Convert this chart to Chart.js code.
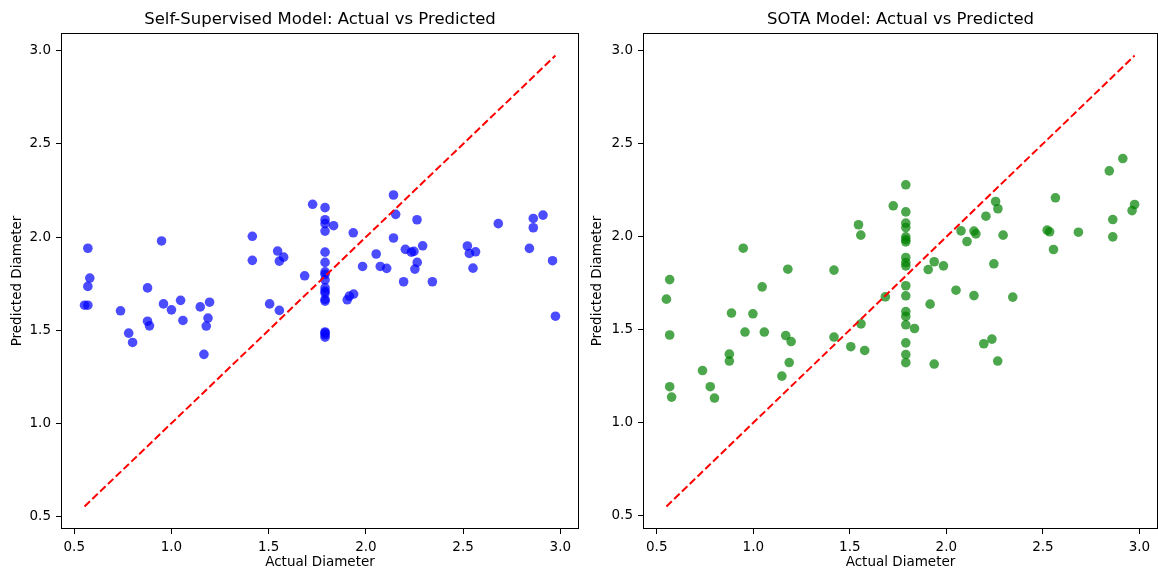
<!DOCTYPE html>
<html>
<head>
<meta charset="utf-8">
<script src="https://cdn.jsdelivr.net/npm/chart.js@4"></script>
<style>
  body { margin: 0; background: #fff; }
  .panel { position: absolute; top: 0; height: 571px; }
</style>
</head>
<body>
<div class="panel" style="left:0;width:579px"><canvas id="ssChart"></canvas></div>
<div class="panel" style="left:580px;width:578px"><canvas id="sotaChart"></canvas></div>
<script>
// data
var tickValues = [0.5, 1.0, 1.5, 2.0, 2.5, 3.0];

var ssActual = [0.553, 0.57, 0.57, 0.58, 0.57, 0.738, 0.78, 0.80, 0.877, 0.877,
  0.887, 0.949, 0.959, 1.0, 1.047, 1.059, 1.148, 1.167, 1.179, 1.188,
  1.196, 1.416, 1.416, 1.505, 1.546, 1.555, 1.555, 1.577, 1.685, 1.726,
  1.79, 1.79, 1.79, 1.79, 1.79, 1.79, 1.79, 1.79, 1.79,
  1.79, 1.79, 1.79, 1.79, 1.79, 1.79, 1.79, 1.79, 1.79,
  1.834, 1.904, 1.915, 1.935, 1.937, 1.983, 2.053, 2.074, 2.107, 2.142,
  2.142, 2.153, 2.194, 2.203, 2.234, 2.247, 2.252, 2.263, 2.264, 2.292,
  2.342, 2.522, 2.532, 2.551, 2.564, 2.681, 2.841, 2.861, 2.861, 2.911,
  2.96, 2.975];
var ssPred = [1.634, 1.634, 1.735, 1.78, 1.94, 1.604, 1.484, 1.434, 1.727, 1.548,
  1.523, 1.979, 1.641, 1.609, 1.66, 1.552, 1.625, 1.37, 1.522, 1.565,
  1.65, 2.004, 1.875, 1.641, 1.925, 1.871, 1.606, 1.892, 1.792, 2.176,
  2.158, 2.093, 2.072, 2.032, 1.919, 1.864, 1.813, 1.80, 1.77,
  1.727, 1.71, 1.699, 1.665, 1.656, 1.49, 1.485, 1.475, 1.462,
  2.061, 1.663, 1.683, 2.023, 1.694, 1.842, 1.909, 1.842, 1.832, 2.226,
  1.995, 2.122, 1.76, 1.934, 1.919, 1.923, 1.828, 2.093, 1.864, 1.953,
  1.76, 1.952, 1.912, 1.833, 1.921, 2.072, 1.939, 2.1, 2.05, 2.118,
  1.873, 1.575];

var sotaActual = [0.55, 0.567, 0.567, 0.567, 0.577, 0.737, 0.777, 0.799, 0.876, 0.876,
  0.887, 0.948, 0.957, 0.998, 1.046, 1.057, 1.148, 1.168, 1.179, 1.186,
  1.196, 1.418, 1.418, 1.505, 1.545, 1.557, 1.558, 1.577, 1.684, 1.725,
  1.79, 1.79, 1.79, 1.79, 1.79, 1.79, 1.79, 1.79, 1.79,
  1.79, 1.79, 1.79, 1.79, 1.79, 1.79, 1.79, 1.79, 1.79,
  1.835, 1.906, 1.916, 1.937, 1.937, 1.985, 2.05, 2.076, 2.107, 2.143,
  2.143, 2.153, 2.194, 2.205, 2.236, 2.246, 2.255, 2.266, 2.267, 2.294,
  2.344, 2.522, 2.535, 2.555, 2.565, 2.684, 2.844, 2.862, 2.862, 2.914,
  2.962, 2.975];
var sotaPred = [1.665, 1.77, 1.472, 1.194, 1.138, 1.281, 1.194, 1.133, 1.369, 1.332,
  1.59, 1.939, 1.488, 1.586, 1.731, 1.488, 1.251, 1.469, 1.826, 1.324,
  1.437, 1.821, 1.461, 1.409, 2.065, 2.009, 1.532, 1.389, 1.677, 2.167,
  2.28, 2.134, 2.074, 2.05, 2.0, 1.985, 1.973, 1.889, 1.862,
  1.844, 1.737, 1.683, 1.598, 1.572, 1.527, 1.43, 1.367, 1.323,
  1.507, 1.824, 1.638, 1.866, 1.316, 1.844, 1.713, 2.032, 1.975, 2.031,
  1.684, 2.016, 1.425, 2.111, 1.45, 1.855, 2.19, 1.332, 2.151, 2.009,
  1.676, 2.036, 2.027, 1.932, 2.21, 2.025, 2.355, 2.093, 2.0, 2.421,
  2.141, 2.174];

Chart.defaults.font.family = "'DejaVu Sans', sans-serif";
Chart.defaults.color = '#000';

// full box around the plot area like matplotlib spines
var framePlugin = {
  id: 'frame',
  afterDraw: function(chart) {
    var a = chart.chartArea, c = chart.ctx;
    c.save();
    c.strokeStyle = '#000';
    c.lineWidth = 1;
    c.strokeRect(a.left + 0.5, a.top + 0.5, a.right - a.left - 1, a.bottom - a.top - 1);
    c.restore();
  }
};

function makeChart(id, title, actual, pred, color, yAxisWidth) {
  var lo = Math.min.apply(null, actual);
  var hi = Math.max.apply(null, actual);
  var pad = (hi - lo) * 0.05;
  var pts = actual.map(function(v, i) { return {x: v, y: pred[i]}; });

  function axis(label, fit) {
    return {
      type: 'linear',
      min: lo - pad,
      max: hi + pad,
      afterBuildTicks: function(s) { s.ticks = tickValues.map(function(v) { return {value: v}; }); },
      afterFit: fit,
      grid: { display: true, drawOnChartArea: false, drawTicks: true, tickLength: 5, tickColor: '#000' },
      border: { display: false },
      ticks: {
        padding: 5,
        font: { size: 13.5 },
        callback: function(v) { return v.toFixed(1); }
      },
      title: { display: true, text: label, font: { size: 13.5 }, padding: { top: 9, bottom: 0 } }
    };
  }

  return new Chart(document.getElementById(id), {
    type: 'scatter',
    data: {
      datasets: [{
        type: 'line',
        data: [{x: lo, y: lo}, {x: hi, y: hi}],
        borderColor: 'red',
        borderWidth: 2,
        borderDash: [7.5, 3.3],
        pointRadius: 0,
        fill: false,
        order: 0
      }, {
        data: pts,
        backgroundColor: color,
        borderWidth: 0,
        pointRadius: 4.8,
        order: 1
      }]
    },
    options: {
      responsive: true,
      maintainAspectRatio: false,
      animation: false,
      layout: { padding: 0, autoPadding: false },
      plugins: {
        legend: { display: false },
        tooltip: { enabled: false },
        title: {
          display: true,
          text: title,
          fullSize: false,
          font: { size: 16.5, weight: 'normal' },
          padding: { top: 10, bottom: 3.2 }
        }
      },
      scales: {
        x: axis('Actual Diameter', function(s) { s.height = 42; s.paddingLeft = 0; s.paddingRight = 0; }),
        y: axis('Predicted Diameter', function(s) { s.width = yAxisWidth; s.paddingTop = 0; s.paddingBottom = 0; })
      }
    },
    plugins: [framePlugin]
  });
}

makeChart('ssChart', 'Self-Supervised Model: Actual vs Predicted', ssActual, ssPred, 'rgba(0,0,255,0.7)', 61);
makeChart('sotaChart', 'SOTA Model: Actual vs Predicted', sotaActual, sotaPred, 'rgba(0,128,0,0.7)', 63);
</script>
</body>
</html>
